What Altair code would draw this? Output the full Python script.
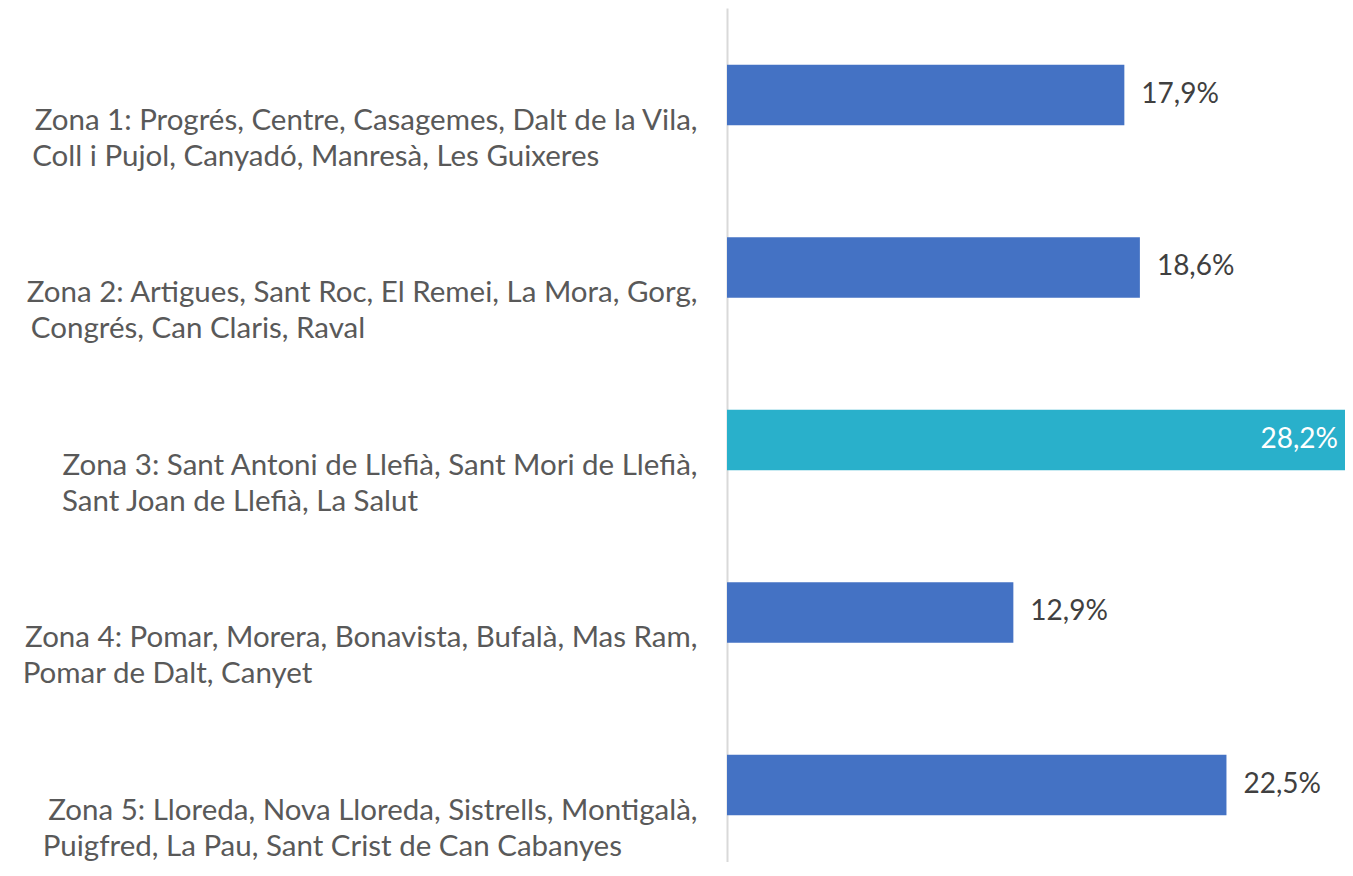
import altair as alt
import pandas as pd

NB = "\u00a0"
ZW = "\u200b"  # keeps the trailing padding from being trimmed

line1 = [
    "Zona 1: Progrés, Centre, Casagemes, Dalt de la Vila,",
    "Zona 2: Artigues, Sant Roc, El Remei, La Mora, Gorg,",
    "Zona 3: Sant Antoni de Llefià, Sant Mori de Llefià,",
    "Zona 4: Pomar, Morera, Bonavista, Bufalà, Mas Ram,",
    "Zona 5: Lloreda, Nova Lloreda, Sistrells, Montigalà,",
]
line2 = [
    "Coll i Pujol, Canyadó, Manresà, Les Guixeres",
    "Congrés, Can Claris, Raval",
    "Sant Joan de Llefià, La Salut",
    "Pomar de Dalt, Canyet",
    "Puigfred, La Pau, Sant Crist de Can Cabanyes",
]
# trailing non-breaking spaces so the right-aligned 2nd line starts under the 1st
line2_tail = [13, 44, 37, 51, 10]
values = [17.9, 18.6, 28.2, 12.9, 22.5]
highlight = [False, False, True, False, False]

labels = [a + "|" + b + NB * n + ZW for a, b, n in zip(line1, line2, line2_tail)]
df = pd.DataFrame({
    "zona": labels,
    "valor": values,
    "destacat": highlight,
    "text": [f"{v:.1f}%".replace(".", ",") for v in values],
})

FONT = "Lato"

y = alt.Y(
    "zona:N",
    sort=labels,
    title=None,
    scale=alt.Scale(paddingInner=0.649, paddingOuter=0.3, align=0.548),
    axis=alt.Axis(
        labelExpr="split(datum.value, '|')",
        labelFont=FONT,
        labelFontSize=29.5,
        labelColor="#595959",
        labelLineHeight=36,
        labelLimit=1000,
        labelPadding=30,
        labelOffset=26,
        labelAlign="right",
        labelBaseline="middle",
        ticks=False,
        domainColor="#D9D9D9",
        domainWidth=2,
        grid=False,
    ),
)
x = alt.X(
    "valor:Q",
    title=None,
    axis=None,
    scale=alt.Scale(domain=[0, 27.84], nice=False, zero=True),
)

bars = alt.Chart(df).mark_bar(clip=True).encode(
    x=x,
    y=y,
    color=alt.Color(
        "destacat:N",
        scale=alt.Scale(domain=[False, True], range=["#4472C4", "#29B0CB"]),
        legend=None,
    ),
)

outside = alt.Chart(df).transform_filter("!datum.destacat").mark_text(
    align="left", baseline="middle", dx=17, font=FONT, fontSize=28, color="#404040"
).encode(x=x, y=y, text="text:N")

inside = alt.Chart(df).transform_filter("datum.destacat").mark_text(
    align="right", baseline="middle", dx=-15, font=FONT, fontSize=28, color="#FFFFFF"
).encode(x=x, y=y, text="text:N")

chart = alt.layer(bars, outside, inside).properties(
    width=618,
    height=854,
    padding={"left": 719, "top": 0, "right": 0, "bottom": 0},
    autosize=alt.AutoSizeParams(type="none"),
).configure_view(stroke=None)

chart.save("out.html", embed_options={"renderer": "svg", "actions": False})
